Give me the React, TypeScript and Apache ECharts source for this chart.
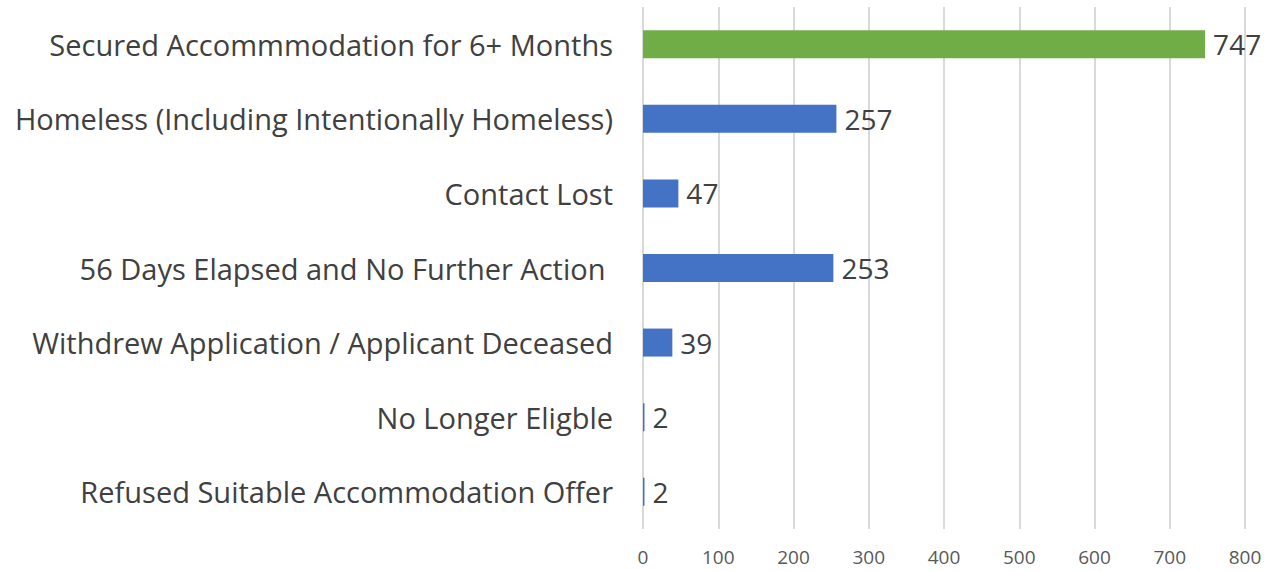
import React, { useEffect, useRef } from "react";
import * as echarts from "echarts";

const categories = [
  "Secured Accommmodation for 6+ Months",
  "Homeless (Including Intentionally Homeless)",
  "Contact Lost",
  "56 Days Elapsed and No Further Action ",
  "Withdrew Application / Applicant Deceased",
  "No Longer Eligble",
  "Refused Suitable Accommodation Offer",
];
const values = [747, 257, 47, 253, 39, 2, 2];
const barColors = ["#70AD47", "#4472C4", "#4472C4", "#4472C4", "#4472C4", "#4472C4", "#4472C4"];
const xTicks = { min: 0, max: 800, interval: 100 };

export default function App() {
  const ref = useRef<HTMLDivElement>(null);
  useEffect(() => {
    if (!ref.current) return;
    const chart = echarts.init(ref.current, undefined, { renderer: "svg" });
    chart.setOption({
      animation: false,
      backgroundColor: "#ffffff",
      grid: { left: 643, right: 26, top: 7, bottom: 42, containLabel: false },
      xAxis: {
        type: "value",
        min: xTicks.min,
        max: xTicks.max,
        interval: xTicks.interval,
        axisLine: { show: false },
        axisTick: { show: false },
        splitLine: { show: true, lineStyle: { color: "#d9d9d9", width: 2 } },
        axisLabel: {
          color: "#595959",
          fontSize: 19,
          fontFamily: "Open Sans",
          margin: 18,
        },
      },
      yAxis: {
        type: "category",
        data: categories,
        inverse: true,
        axisLine: { show: false },
        axisTick: { show: false },
        axisLabel: {
          color: "#404040",
          fontSize: 29,
          fontFamily: "Open Sans",
          margin: 30,
        },
      },
      series: [
        {
          type: "bar",
          data: values.map((v, i) => ({ value: v, itemStyle: { color: barColors[i] } })),
          barWidth: 28,
          label: {
            show: true,
            position: "right",
            distance: 8,
            color: "#404040",
            fontSize: 28,
            fontFamily: "Open Sans",
          },
        },
      ],
    });
    return () => chart.dispose();
  }, []);
  return <div ref={ref} style={{ width: 1271, height: 571, position: "absolute", left: 0, top: 0 }} />;
}
